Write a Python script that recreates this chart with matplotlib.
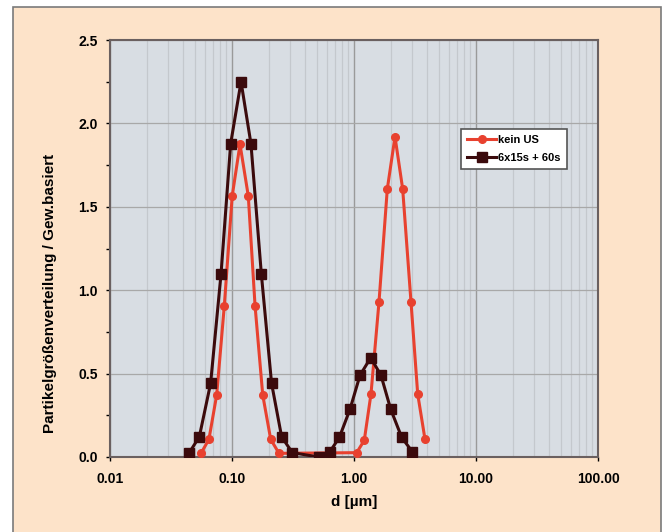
import numpy as np
import matplotlib.pyplot as plt
import matplotlib.patches as patches
from matplotlib.ticker import FixedLocator, NullFormatter

plt.rcParams['font.family'] = ['Liberation Sans', 'DejaVu Sans']
plt.rcParams['font.weight'] = 'bold'

# kein US (red, circles)
d_kein = [0.0557, 0.0647, 0.0749, 0.0865, 0.1004, 0.1163, 0.136, 0.1545, 0.1786, 0.2076, 0.2427,
          1.052, 1.214, 1.378, 1.603, 1.875, 2.168, 2.506, 2.932, 3.327, 3.819]
v_kein = [0.022, 0.106, 0.372, 0.907, 1.565, 1.875, 1.565, 0.907, 0.372, 0.106, 0.022,
          0.026, 0.10, 0.378, 0.93, 1.607, 1.92, 1.607, 0.93, 0.378, 0.106]

# 6x15s + 60s (dark, squares)
d_us = [0.0447, 0.054, 0.0668, 0.0813, 0.0975, 0.1186, 0.143, 0.174, 0.211, 0.255, 0.312,
        0.514, 0.635, 0.759, 0.927, 1.12, 1.37, 1.664, 2.0, 2.46, 3.0]
v_us = [0.026, 0.122, 0.442, 1.097, 1.878, 2.25, 1.878, 1.097, 0.442, 0.122, 0.026,
        0.0, 0.032, 0.118, 0.286, 0.49, 0.595, 0.49, 0.286, 0.118, 0.032]

labels = ['kein US', '6x15s + 60s']
xticks = [0.01, 0.1, 1, 10, 100]
xticklabels = ['0.01', '0.10', '1.00', '10.00', '100.00']
yticks = [0.0, 0.5, 1.0, 1.5, 2.0, 2.5]

red = '#e8412f'
dark = '#3b0a0c'

fig = plt.figure(figsize=(6.69, 5.32), dpi=100, facecolor='white')

# peach panel with grey frame
panel = patches.Rectangle((13 / 669, -0.05), (661 - 13) / 669, 1 - 7 / 532 + 0.05,
                          transform=fig.transFigure, facecolor='#fde3c9',
                          edgecolor='#7a7a7a', linewidth=1.2, zorder=-10)
fig.patches.append(panel)

ax = fig.add_axes([110 / 669, 75 / 532, 488 / 669, 417 / 532])
ax.set_zorder(1)
ax.set_facecolor('#d8dde3')

ax.plot(d_kein, v_kein, color=red, lw=2.2, marker='o', ms=5.5, label=labels[0], zorder=3)
ax.plot(d_us, v_us, color=dark, lw=2.2, marker='s', ms=6.5, label=labels[1], zorder=4)

ax.set_xscale('log')
ax.set_xlim(0.01, 100)
ax.set_ylim(0, 2.5)

ax.set_xticks(xticks)
ax.set_xticklabels(xticklabels)
ax.xaxis.set_minor_formatter(NullFormatter())
ax.set_yticks(yticks)
ax.set_yticklabels(['%.1f' % t for t in yticks])
ax.yaxis.set_minor_locator(FixedLocator(np.arange(0.25, 2.5, 0.5)))

ax.grid(which='major', axis='x', color='#9a9a9a', lw=1.0)
ax.grid(which='minor', axis='x', color='#c4c8cd', lw=0.9)
ax.grid(which='major', axis='y', color='#a8a8a8', lw=0.9)
ax.set_axisbelow(True)

ax.tick_params(axis='both', which='major', labelsize=10, direction='out', length=3, width=1)
ax.tick_params(axis='x', which='minor', length=0)
ax.tick_params(axis='y', which='minor', direction='out', length=3, width=1)
ax.tick_params(axis='x', pad=8)
ax.tick_params(axis='y', pad=6)

for s in ax.spines.values():
    s.set_color('#6a6060')
    s.set_linewidth(1.5)

ax.set_xlabel('d [µm]', fontsize=11, fontweight='bold', labelpad=6)
fig.text(50 / 669, 1 - 293 / 532, 'Partikelgrößenverteilung / Gew.basiert',
         rotation=90, ha='center', va='center', fontsize=11, fontweight='bold')

leg = ax.legend(loc='upper left', bbox_to_anchor=(0.708, 0.8), fontsize=8,
                frameon=True, fancybox=False, framealpha=1, edgecolor='#555555',
                handlelength=2.6, borderpad=0.55, labelspacing=0.7, handletextpad=0.2)
leg.get_frame().set_linewidth(1.2)

fig.savefig('out.png', dpi=100, facecolor=fig.get_facecolor())
